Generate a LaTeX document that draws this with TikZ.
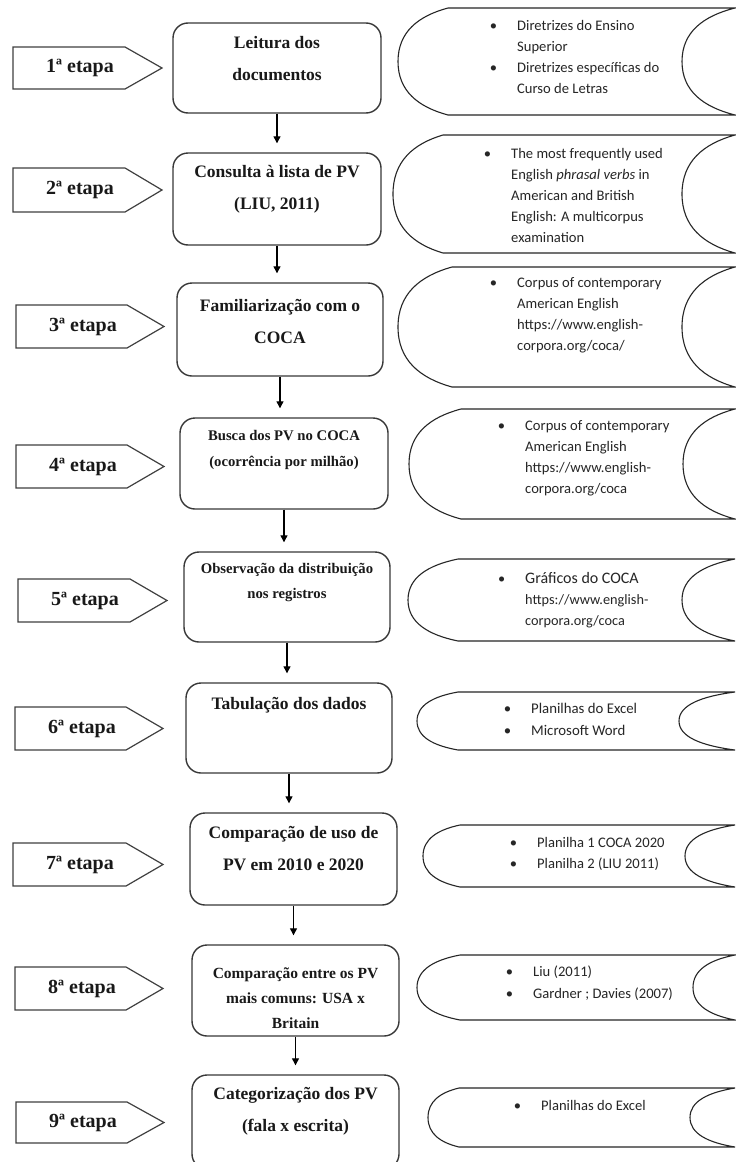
\documentclass[tikz,border=0pt]{standalone}
\usepackage{fontspec}
\setmainfont{Liberation Serif}
\newfontfamily\listfont{Carlito}
\usetikzlibrary{arrows.meta}
\newcommand{\bul}{\llap{•\hspace{20pt}}}
\newcommand{\etapashape}[4]{%
  \draw[etapa] (#1,#2) -- ({#4-37},#2) -- (#4,{(#2+#3)/2}) -- ({#4-37},#3) -- (#1,#3) -- cycle;}
\newcommand{\resshape}[6]{%
  \pgfmathsetmacro{\rsmid}{(#1+#2)/2}%
  \pgfmathsetmacro{\rsh}{(#2-#1)/2}%
  \pgfmathsetmacro{\rsa}{#3+#4}%
  \pgfmathsetmacro{\rsla}{#3+0.4*#4}%
  \pgfmathsetmacro{\rsra}{#5+0.4*(#6-#5)}%
  \pgfmathsetmacro{\rsta}{#1+0.15*\rsh}%
  \pgfmathsetmacro{\rstb}{\rsmid-0.55*\rsh}%
  \pgfmathsetmacro{\rstc}{\rsmid+0.55*\rsh}%
  \pgfmathsetmacro{\rstd}{#2-0.15*\rsh}%
  \draw[res] (\rsa,#1) -- (#6,#1)
    .. controls (\rsra,\rsta) and (#5,\rstb) .. (#5,\rsmid)
    .. controls (#5,\rstc) and (\rsra,\rstd) .. (#6,#2)
    -- (\rsa,#2)
    .. controls (\rsla,\rstd) and (#3,\rstc) .. (#3,\rsmid)
    .. controls (#3,\rstb) and (\rsla,\rsta) .. (\rsa,#1) -- cycle;}
\begin{document}
\begin{tikzpicture}[x=1pt,y=-1pt,
  stepbox/.style={draw=black!78, line width=1.4pt, rounded corners=15pt, inner sep=0pt},
  etapa/.style={draw=black!75, line width=1.2pt},
  big/.style={font=\fontsize{17.5}{32}\selectfont\bfseries, align=center, text=black!90},
  small/.style={font=\fontsize{14.7}{25.5}\selectfont\bfseries, align=center, text=black!90},
  lab/.style={font=\fontsize{20}{22}\selectfont\bfseries, text=black!90},
  lst/.style={font=\listfont\fontsize{14.6}{21}\selectfont, align=left, anchor=west, text=black!85, inner sep=0pt},
  res/.style={draw=black!85, line width=1.1pt},
  flow/.style={-{Triangle[length=7pt,width=7pt]}, line width=1.2pt, shorten >=9pt}
]
\path[use as bounding box, fill=white] (0,0) rectangle (736,1162);

% stage labels
\etapashape{13}{47}{89}{162}
\node[lab] (e1) at (80,68) {1ª etapa};
\etapashape{13}{168}{212}{162}
\node[lab] (e2) at (80,190) {2ª etapa};
\etapashape{16}{305}{348}{164}
\node[lab] (e3) at (83,326.5) {3ª etapa};
\etapashape{16}{445}{488}{164}
\node[lab] (e4) at (83,466.5) {4ª etapa};
\etapashape{18}{579}{622}{167}
\node[lab] (e5) at (85,600.5) {5ª etapa};
\etapashape{15}{707}{750}{163}
\node[lab] (e6) at (82,728.5) {6ª etapa};
\etapashape{13}{843}{886}{163}
\node[lab] (e7) at (80,864.5) {7ª etapa};
\etapashape{15}{967}{1010}{163}
\node[lab] (e8) at (82,988.5) {8ª etapa};
\etapashape{16}{1102}{1143}{164}
\node[lab] (e9) at (83,1122.5) {9ª etapa};

% process boxes
\node[stepbox, minimum width=208pt, minimum height=90pt] (b1) at (277,68) {};
\node[big] (t1) at (277,59) {Leitura dos\\documentos};
\node[stepbox, minimum width=208pt, minimum height=92pt] (b2) at (277,199) {};
\node[big] (t2) at (277,189) {Consulta à lista de PV\\(LIU, 2011)};
\node[stepbox, minimum width=206pt, minimum height=93pt] (b3) at (280,329.5) {};
\node[big] (t3) at (280,321.5) {Familiarização com o\\COCA};
\node[stepbox, minimum width=208pt, minimum height=91pt] (b4) at (284,463.5) {};
\node[small] (t4) at (284,450) {Busca dos PV no COCA\\(ocorrência por milhão)};
\node[stepbox, minimum width=206pt, minimum height=90pt] (b5) at (287,597) {};
\node[small] (t5) at (287,582.5) {Observação da distribuição\\nos registros};
\node[stepbox, minimum width=206pt, minimum height=90pt] (b6) at (289,728) {};
\node[big] (t6) at (289,705) {Tabulação dos dados};
\node[stepbox, minimum width=207pt, minimum height=92pt] (b7) at (293.5,859) {};
\node[big] (t7) at (293.5,849) {Comparação de uso de\\PV em 2010 e 2020};
\node[stepbox, minimum width=207pt, minimum height=91pt] (b8) at (295.5,990.5) {};
\node[small, font=\fontsize{15.5}{25}\selectfont\bfseries] (t8) at (295.5,998) {Comparação entre os PV\\mais comuns: USA x\\Britain};
\node[stepbox, minimum width=207pt, minimum height=94pt] (b9) at (295.5,1122) {};
\node[big] (t9) at (295.5,1111) {Categorização dos PV\\(fala x escrita)};

% connectors
\draw[flow] (b1.south) -- (b1.south |- b2.north);
\draw[flow] (b2.south) -- (b2.south |- b3.north);
\draw[flow] (b3.south) -- (b3.south |- b4.north);
\draw[flow] (b4.south) -- (b4.south |- b5.north);
\draw[flow] (b5.south) -- (b5.south |- b6.north);
\draw[flow] (b6.south) -- (b6.south |- b7.north);
\draw[flow] (b7.south) -- (b7.south |- b8.north);
\draw[flow] (b8.south) -- (b8.south |- b9.north);

% resource shapes
\resshape{8}{115}{398}{50}{682}{735}
\node[lst] (r1) at (517,56.5) {\bul Diretrizes do Ensino\\Superior\\\bul Diretrizes específicas do\\Curso de Letras};
\resshape{135}{253}{393}{50}{682}{735}
\node[lst] (r2) at (511,195) {\bul The most frequently used\\English \textit{phrasal verbs} in\\American and British\\English: A multicorpus\\examination};
\resshape{267}{387}{398}{54}{682}{735}
\node[lst] (r3) at (517,315.5) {\bul Corpus of contemporary\\American English\\https://www.english-\\corpora.org/coca/};
\resshape{409}{519}{409}{52}{683}{735}
\node[lst] (r4) at (525,458.5) {\bul Corpus of contemporary\\American English\\https://www.english-\\corpora.org/coca};
\resshape{559}{641}{408}{50}{682}{735}
\node[lst, font=\listfont\fontsize{14.3}{21}\selectfont] (r5) at (525,600) {\bul{\fontsize{16}{21}\selectfont Gráficos do COCA}\\https://www.english-\\corpora.org/coca};
\resshape{692}{750}{417}{41}{679}{735}
\node[lst, font=\listfont\fontsize{14.8}{22}\selectfont] (r6) at (531,719) {\bul Planilhas do Excel\\\bul Microsoft Word};
\resshape{825}{887}{423}{37}{685}{735}
\node[lst] (r7) at (537,853.5) {\bul Planilha 1 COCA 2020\\\bul Planilha 2 (LIU 2011)};
\resshape{955}{1020}{417}{43}{693}{735}
\node[lst, font=\listfont\fontsize{14.6}{22}\selectfont] (r8) at (533,983) {\bul Liu (2011)\\\bul Gardner ; Davies (2007)};
\resshape{1088}{1147}{428}{31}{690}{735}
\node[lst] (r9) at (541,1105) {\bul Planilhas do Excel};
\end{tikzpicture}
\end{document}
